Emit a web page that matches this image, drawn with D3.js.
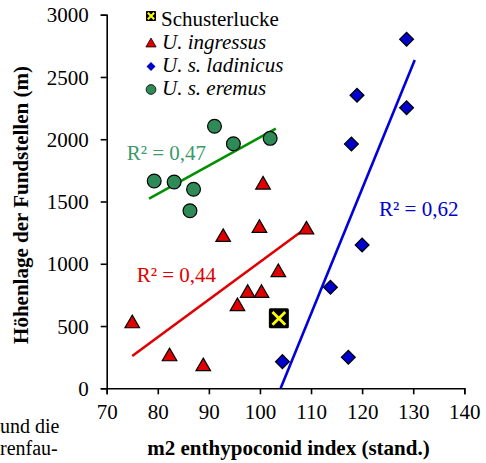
<!DOCTYPE html>
<html>
<head>
<meta charset="utf-8">
<script src="https://cdn.jsdelivr.net/npm/d3@7"></script>
<style>
	body { margin: 0; background: #fff; }
	svg text { font-family: "Liberation Serif", "Times New Roman", serif; }
</style>
</head>
<body>
<div id="chart"></div>
<script>
// Punkte der Arten (x = m2 enthypoconid index, y = Höhe in m)
var schusterX = [103.7];
var schusterY = [562];

var ingressusX = [75.0, 82.3, 88.9, 92.8, 99.9, 100.6, 109.1, 103.6, 97.6, 100.3, 95.6];
var ingressusY = [532, 267, 187, 1225, 1298, 1646, 1285, 942, 776, 776, 669];

var ladinicusX = [128.7, 119.0, 128.7, 117.9, 120.0, 113.8, 117.3, 104.4];
var ladinicusY = [2803, 2353, 2253, 1962, 1151, 811, 249, 214];

var eremusX = [79.3, 83.2, 87.0, 86.3, 91.1, 94.8, 102.0];
var eremusY = [1665, 1657, 1598, 1426, 2104, 1964, 2007];

// Trendlinien: Anfangs- und Endpunkt
var trendIngressus = [[75.0, 259], [109.3, 1295]];
var trendLadinicus = [[104.05, 0], [130.3, 2636]];
var trendEremus = [[78.3, 1523], [103.1, 2085]];

var rSquared = ['0,44', '0,62', '0,47'];

var legendNames = ['Schusterlucke', 'U. ingressus', 'U. s. ladinicus', 'U. s. eremus'];
var xTicks = [70, 80, 90, 100, 110, 120, 130, 140];
var yTicks = [0, 500, 1000, 1500, 2000, 2500, 3000];

var options = {
	w: 486,
	h: 463,
	plot: { left: 106.7, right: 464.3, top: 14.7, bottom: 388.3 },
	font: 21,
	serif: 'Liberation Serif, Times New Roman, serif'
};

var colors = {
	red: '#e00000',
	blue: '#0000cc',
	blueLine: '#0000dd',
	green: '#2e8b57',
	greenLine: '#009000',
	greenText: '#3a9a6a',
	yellow: '#ffff00'
};

function zip(xs, ys) {
	return xs.map(function (x, i) { return { x: x, y: ys[i] }; });
}

var svg = d3.select('#chart')
	.append('svg')
	.attr('width', options.w)
	.attr('height', options.h)
	.attr('font-family', options.serif);

var x = d3.scaleLinear().domain([70, 140]).range([options.plot.left, options.plot.right]);
var y = d3.scaleLinear().domain([0, 3000]).range([options.plot.bottom, options.plot.top]);

// Achsen
var xAxis = svg.append('g')
	.attr('transform', 'translate(0,' + options.plot.bottom + ')')
	.call(d3.axisBottom(x).tickValues(xTicks).tickFormat(d3.format('d'))
		.tickSizeOuter(0).tickSize(6).tickPadding(12));

var yAxis = svg.append('g')
	.attr('transform', 'translate(' + options.plot.left + ',0)')
	.call(d3.axisLeft(y).tickValues(yTicks).tickFormat(d3.format('d'))
		.tickSizeOuter(0).tickSize(6).tickPadding(12));

[xAxis, yAxis].forEach(function (ax) {
	ax.attr('font-family', options.serif).attr('font-size', options.font);
	ax.select('.domain').attr('stroke', '#000').attr('stroke-width', 1.6);
	ax.selectAll('.tick line').attr('stroke', '#000').attr('stroke-width', 1.6);
	ax.selectAll('.tick text')
		.attr('fill', '#000')
		.attr('font-family', options.serif)
		.attr('font-size', options.font);
});
xAxis.selectAll('.tick text').attr('dy', '0.71em').attr('y', 16);
yAxis.selectAll('.tick text').attr('x', -18).attr('dy', '0.34em');

// Achsentitel
svg.append('text')
	.attr('x', (options.plot.left + options.plot.right) / 2 + 3)
	.attr('y', 455)
	.attr('text-anchor', 'middle')
	.style('font-weight', 'bold')
	.style('font-size', options.font + 'px')
	.text('m2 enthypoconid index (stand.)');

svg.append('text')
	.attr('transform', 'translate(28,205) rotate(-90)')
	.attr('text-anchor', 'middle')
	.style('font-weight', 'bold')
	.style('font-size', options.font + 'px')
	.text('Höhenlage der Fundstellen (m)');

// Textreste der Seite links unten
svg.append('text').attr('x', 0).attr('y', 433).style('font-size', '20px').text('und die');
svg.append('text').attr('x', 0).attr('y', 455).style('font-size', '20px').text('renfau-');

// Trendlinien
var line = d3.line()
	.x(function (d) { return x(d[0]); })
	.y(function (d) { return y(d[1]); });

[[trendEremus, colors.greenLine], [trendIngressus, colors.red], [trendLadinicus, colors.blueLine]]
	.forEach(function (t) {
		svg.append('path')
			.attr('d', line(t[0]))
			.attr('fill', 'none')
			.attr('stroke', t[1])
			.attr('stroke-width', 2.6);
	});

// Punkte
var triangle = d3.symbol().type(d3.symbolTriangle).size(92);
var diamond = d3.symbol().type(d3.symbolSquare).size(96);
var circle = d3.symbol().type(d3.symbolCircle).size(150);

svg.append('g').selectAll('path')
	.data(zip(eremusX, eremusY))
	.enter()
	.append('path')
	.attr('d', circle)
	.attr('transform', function (d) { return 'translate(' + x(d.x) + ',' + y(d.y) + ')'; })
	.attr('fill', colors.green)
	.attr('stroke', '#000')
	.attr('stroke-width', 1.2);

svg.append('g').selectAll('path')
	.data(zip(ingressusX, ingressusY))
	.enter()
	.append('path')
	.attr('d', triangle)
	.attr('transform', function (d) { return 'translate(' + x(d.x) + ',' + (y(d.y) + 1.5) + ')'; })
	.attr('fill', colors.red)
	.attr('stroke', '#000')
	.attr('stroke-width', 1.2);

svg.append('g').selectAll('path')
	.data(zip(ladinicusX, ladinicusY))
	.enter()
	.append('path')
	.attr('d', diamond)
	.attr('transform', function (d) { return 'translate(' + x(d.x) + ',' + y(d.y) + ') rotate(45)'; })
	.attr('fill', colors.blue)
	.attr('stroke', '#000')
	.attr('stroke-width', 1.2);

// Schusterlucke: schwarzes Quadrat mit gelbem Kreuz
function drawCross(g, s, sw) {
	g.append('rect')
		.attr('x', -s / 2).attr('y', -s / 2)
		.attr('width', s).attr('height', s)
		.attr('rx', s * 0.08)
		.attr('fill', '#000');
	var k = s * 0.32;
	g.append('path')
		.attr('d', 'M' + (-k) + ',' + (-k) + 'L' + k + ',' + k + 'M' + k + ',' + (-k) + 'L' + (-k) + ',' + k)
		.attr('stroke', colors.yellow)
		.attr('stroke-width', sw);
}

svg.append('g').selectAll('g')
	.data(zip(schusterX, schusterY))
	.enter()
	.append('g')
	.attr('transform', function (d) { return 'translate(' + x(d.x) + ',' + y(d.y) + ')'; })
	.each(function () { drawCross(d3.select(this), 20, 2.8); });

// R²-Beschriftungen
var labels = [
	{ text: rSquared[2], px: 126.7, py: 160, color: colors.greenText },
	{ text: rSquared[0], px: 136.7, py: 281.5, color: colors.red },
	{ text: rSquared[1], px: 379, py: 216, color: colors.blue }
];
svg.append('g').selectAll('text')
	.data(labels)
	.enter()
	.append('text')
	.attr('x', function (d) { return d.px; })
	.attr('y', function (d) { return d.py; })
	.attr('fill', function (d) { return d.color; })
	.style('font-size', options.font + 'px')
	.text(function (d) { return 'R² = ' + d.text; });

// Legende
var legend = svg.append('g').attr('transform', 'translate(151,0)');
var rows = legend.selectAll('g')
	.data(legendNames)
	.enter()
	.append('g')
	.attr('transform', function (d, i) { return 'translate(0,' + (26 + i * 23) + ')'; });

rows.append('text')
	.attr('x', function (d, i) { return i === 0 ? 10 : 11; })
	.style('font-size', options.font + 'px')
	.style('font-style', function (d, i) { return i === 0 ? 'normal' : 'italic'; })
	.text(function (d) { return d; });

rows.each(function (d, i) {
	var g = d3.select(this);
	if (i === 0) {
		var m = g.append('g').attr('transform', 'translate(0,-10)');
		drawCross(m, 10, 2);
	} else if (i === 1) {
		g.append('path')
			.attr('d', d3.symbol().type(d3.symbolTriangle).size(45))
			.attr('transform', 'translate(0,-5)')
			.attr('fill', colors.red).attr('stroke', '#000').attr('stroke-width', 0.8);
	} else if (i === 2) {
		g.append('path')
			.attr('d', d3.symbol().type(d3.symbolSquare).size(40))
			.attr('transform', 'translate(0,-5.5) rotate(45)')
			.attr('fill', colors.blue);
	} else {
		g.append('path')
			.attr('d', d3.symbol().type(d3.symbolCircle).size(75))
			.attr('transform', 'translate(0,-5.5)')
			.attr('fill', colors.green).attr('stroke', '#000').attr('stroke-width', 0.8);
	}
});
</script>
</body>
</html>
